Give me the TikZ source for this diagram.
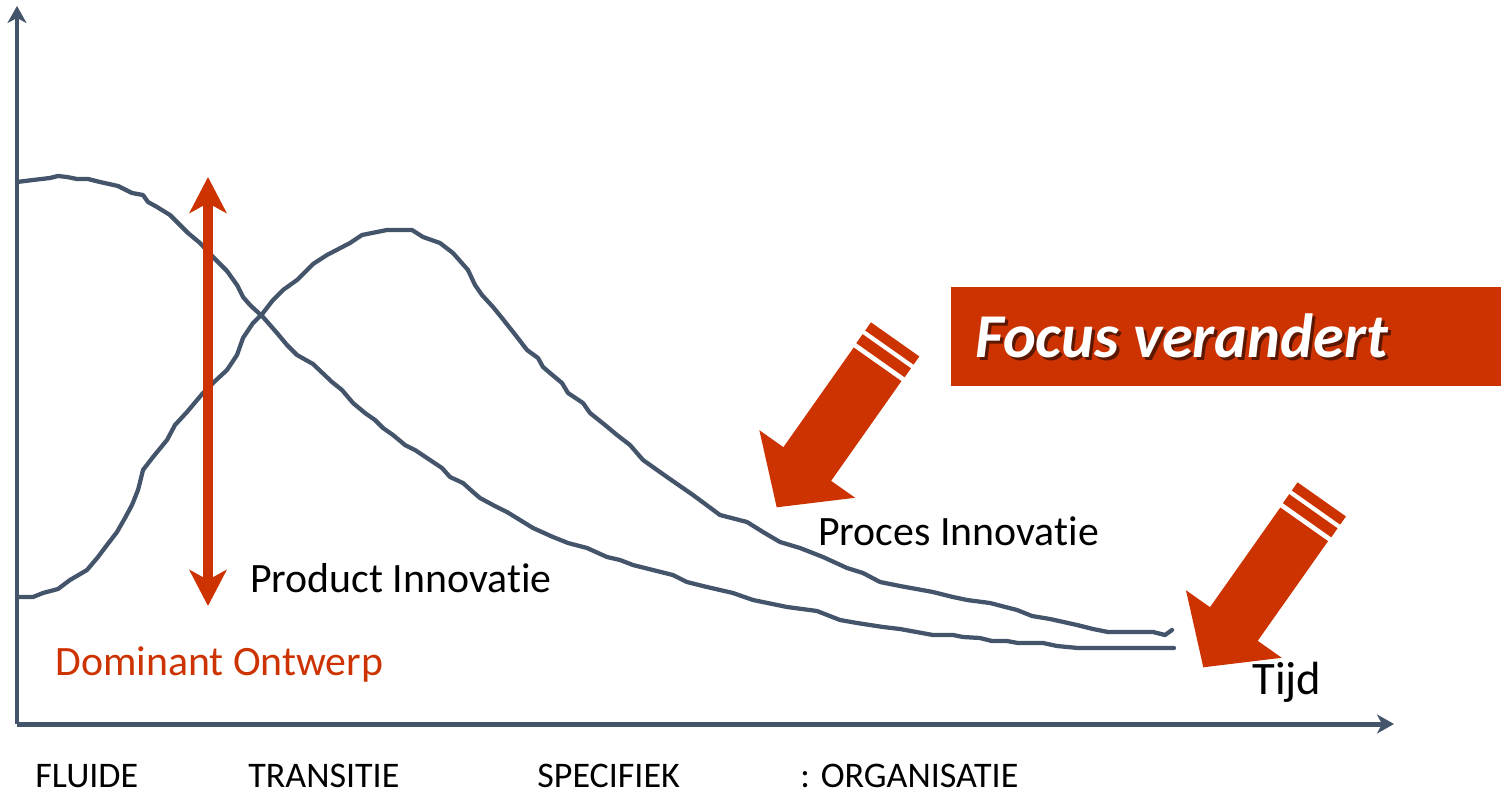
\documentclass[tikz,border=0pt]{standalone}
\usepackage{fontspec}
\setmainfont{Carlito}[Ligatures=NoCommon]
\usetikzlibrary{arrows.meta}
\definecolor{axisblue}{HTML}{44546A}
\definecolor{focusred}{HTML}{CC3300}
\newcommand{\blockarrow}[1]{%
  \begin{scope}[shift={#1}, rotate=54.8, x=0.02cm, y=0.02cm]
    \fill[focusred] (0,0) -- (53,58.6) -- (53,29.2) -- (175,29.2) -- (175,-29.2) -- (53,-29.2) -- (53,-58.6) -- cycle;
    \fill[focusred] (180,29.6) rectangle (191,-29.6);
    \fill[focusred] (195.5,29.6) rectangle (205.5,-29.6);
  \end{scope}}
\begin{document}
\begin{tikzpicture}[x=0.02cm,y=-0.02cm,
  curve/.style={draw=axisblue, line width=0.085cm, line join=round, line cap=round},
  axisline/.style={draw=axisblue, line width=0.1cm, -{Stealth[length=0.34cm,width=0.38cm,inset=0.1cm]}},
  lbl/.style={font=\fontsize{23.8}{28}\selectfont, anchor=base west, inner sep=0pt},
  cat/.style={font=\fontsize{20.5}{24}\selectfont, anchor=base west, inner sep=0pt},
]
\useasboundingbox (0,0) rectangle (1501,794);

% axes
\coordinate (origin) at (17,724);
\coordinate (ytip) at (17,6);
\coordinate (xtip) at (1394,724);
\draw[axisline] (origin) -- (ytip);
\draw[axisline] (origin) -- (xtip);

% product innovation curve
\draw[curve] plot coordinates {(17,182) (33,180) (50,178) (58,176) (67,177) (77,179) (88,179) (100,182) (118,186) (132,193) (143,195) (148,202) (157,207) (170,215) (180,225) (188,233) (200,243) (213,257) (227,271) (237,285) (243,297) (250,305) (263,317) (277,333) (287,345) (297,355) (313,364) (332,382) (342,390) (353,403) (365,413) (375,420) (383,428) (393,435) (405,445) (415,450) (430,460) (442,468) (450,477) (463,483) (473,492) (480,498) (493,505) (507,512) (533,528) (553,537) (568,543) (587,548) (607,557) (620,560) (633,565) (653,570) (673,575) (687,582) (707,587) (733,593) (753,600) (787,607) (817,611) (840,620) (857,623) (883,627) (900,629) (933,635) (953,635) (963,637) (980,638) (992,641) (1007,641) (1018,643) (1043,643) (1057,646) (1078,648) (1174,648)};

% process innovation curve
\draw[curve] plot coordinates {(17,597) (33,597) (43,593) (58,589) (70,580) (87,570) (98,557) (107,545) (117,532) (125,518) (132,505) (138,490) (143,470) (153,457) (167,440) (175,425) (187,412) (203,393) (213,383) (227,370) (237,355) (243,338) (253,323) (263,313) (273,300) (283,290) (297,280) (313,264) (327,255) (350,243) (362,235) (387,230) (412,230) (423,237) (440,243) (453,253) (468,270) (475,285) (482,295) (493,307) (502,318) (517,337) (527,350) (538,358) (543,367) (550,373) (562,383) (568,393) (583,403) (590,413) (605,425) (617,435) (630,445) (643,460) (667,477) (693,495) (720,515) (747,522) (763,532) (780,542) (800,548) (823,557) (847,568) (863,573) (880,582) (900,586) (933,592) (953,597) (967,600) (990,603) (1017,610) (1032,616) (1050,619) (1077,625) (1093,629) (1108,632) (1153,632) (1165,635) (1172,630)};

% dominant design double arrow
\coordinate (dtop) at (208,177);
\coordinate (dbot) at (208,606);
\draw[focusred, line width=0.19cm,
  {Stealth[length=0.72cm,width=0.74cm,inset=0.2cm]}-{Stealth[length=0.72cm,width=0.74cm,inset=0.2cm]}] (dbot) -- (dtop);

% block arrows
\blockarrow{(776.7,507.3)}
\blockarrow{(1203.3,667.3)}

% focus box
\fill[focusred] (951,287) rectangle (1501,386);
\node[anchor=base west, inner sep=0pt, text=black, opacity=0.55, font=\fontsize{35.5}{40}\bfseries\itshape\selectfont] (focusshadow) at (978,360) {Focus verandert};
\node[anchor=base west, inner sep=0pt, text=white, font=\fontsize{35.5}{40}\bfseries\itshape\selectfont] (focus) at (975,357) {Focus verandert};

% labels
\node[lbl] (prod) at (250,592) {Product Innovatie};
\node[lbl] (proc) at (818,545) {Proces Innovatie};
\node[lbl, text=focusred] (dom) at (55,675) {Dominant Ontwerp};
\node[anchor=base west, inner sep=0pt, font=\fontsize{26.5}{30}\selectfont] (tijd) at (1252,694) {Tijd};

\node[cat] (c1) at (35,787) {FLUIDE};
\node[cat] (c2) at (248,787) {TRANSITIE};
\node[cat] (c3) at (537,787) {SPECIFIEK};
\node[cat] (c4) at (800,787) {: ORGANISATIE};
\end{tikzpicture}
\end{document}
